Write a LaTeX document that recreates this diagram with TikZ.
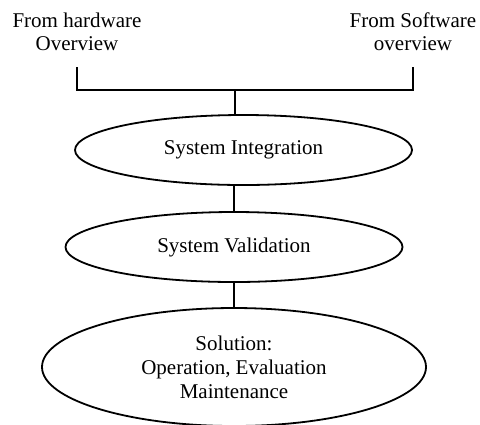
\documentclass[tikz,border=0pt]{standalone}
\usepackage{fontspec}
\setmainfont{Liberation Serif}
\usepackage{tikz}
\usetikzlibrary{shapes,arrows,positioning,fit,backgrounds}
\tikzset{
    every node/.style={font=\fontsize{10.5}{11.5}\selectfont},
    stage/.style={draw,ellipse,line width=0.9pt,inner sep=0pt,align=center,
        font=\fontsize{10.5}{12}\selectfont},
    source/.style={align=center}
}

\begin{document}
\begin{tikzpicture}[x=0.5pt,y=-0.5pt,line width=0.8pt]
            \useasboundingbox (0,0) rectangle (480,424);

            % Draw the two inputs
            \node[source] (hw) at (77,32) {From hardware\\Overview};
            \node[source] (sw) at (413,32) {From Software\\overview};

            % Draw the stages
            \node[stage,minimum width=168.5pt,minimum height=35pt] (integ) at (243.5,150) {System Integration};
            \node[stage,minimum width=168.5pt,minimum height=35pt] (valid) at (234,247) {System Validation};
            \node[stage,minimum width=192pt,minimum height=59pt] (sol) at (234,367) {Solution:\\Operation, Evaluation\\Maintenance};

            % Draw the bracket joining the inputs
            \coordinate (hwtip) at (77,67);
            \coordinate (swtip) at (413,67);
            \coordinate (join) at (235,90);
            \draw (hwtip) |- (join) -| (swtip);
            \draw (join) -- (join |- integ.north);

            % Link the stages
            \draw (valid.north |- integ.south) -- (valid.north);
            \draw (valid.south) -- (valid.south |- sol.north);
        \end{tikzpicture}
\end{document}
